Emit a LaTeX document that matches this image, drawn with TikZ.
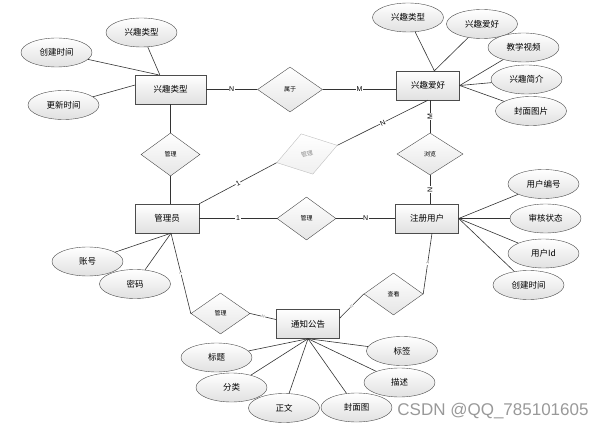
\documentclass[tikz,border=0pt]{standalone}
\usepackage{fontspec}
\setmainfont{Liberation Sans}
\newfontfamily\cjk{Noto Sans CJK SC}
\usetikzlibrary{shapes.geometric,calc}

\begin{document}
\begin{tikzpicture}[
    x=1pt, y=-1pt,
    every node/.style={inner sep=0},
    box/.style={draw=black!70, top color=white, bottom color=black!12,
        font=\cjk\fontsize{8.5}{9}\selectfont, minimum width=63pt, minimum height=29pt},
    attr/.style={ellipse, draw=black!70, top color=white, bottom color=black!12,
        font=\cjk\fontsize{8.5}{9}\selectfont, minimum width=71pt, minimum height=29pt},
    rel/.style={diamond, draw=black!70, top color=white, bottom color=black!10,
        font=\cjk\fontsize{6}{6}\selectfont, minimum width=59pt, minimum height=43pt},
    link/.style={draw=black!80, line width=0.6pt},
    card/.style={fill=white, inner sep=0.6pt, font=\fontsize{7}{7}\selectfont},
    tinycard/.style={fill=white, inner sep=0.3pt, text=black!50, font=\fontsize{4}{4}\selectfont}
]
\useasboundingbox (0,0) rectangle (607,430);

\node[box, minimum width=71pt] (type) at (170.5,89.5) {兴趣类型};
\node[box] (hobby) at (428,85.5) {兴趣爱好};
\node[box, minimum width=64pt] (admin) at (167,218.5) {管理员};
\node[box] (user) at (427,218.5) {注册用户};
\node[box] (notice) at (308,324) {通知公告};

\node[rel, minimum width=65pt, minimum height=45pt] (belong) at (290,89.5) {属于};
\node[rel] (manage1) at (170.5,154.5) {管理};
\node[rel, minimum width=63pt, minimum height=42pt, rotate=16, draw=black!25,
    bottom color=black!6, text=black!45] (manage2) at (307,154) {管理};
\node[rel, minimum width=66pt, minimum height=42pt] (browse) at (430,154) {浏览};
\node[rel] (manage3) at (306.5,218.5) {管理};
\node[rel, minimum height=41pt] (manage4) at (220.5,313.5) {管理};
\node[rel, minimum height=42pt] (view) at (393.5,294) {查看};

\node[attr] (typeA) at (141.5,32.5) {兴趣类型};
\node[attr] (typeB) at (56.5,52.5) {创建时间};
\node[attr] (typeC) at (63.5,105) {更新时间};
\node[attr] (hobbyA) at (408,17.5) {兴趣类型};
\node[attr] (hobbyB) at (482,24) {兴趣爱好};
\node[attr] (hobbyC) at (523.5,47.5) {教学视频};
\node[attr] (hobbyD) at (526.5,79.5) {兴趣简介};
\node[attr] (hobbyE) at (531,111) {封面图片};
\node[attr] (userA) at (543.5,184) {用户编号};
\node[attr] (userB) at (545.5,218.5) {审核状态};
\node[attr] (userC) at (543.5,253.5) {用户Id};
\node[attr] (userD) at (528.5,285) {创建时间};
\node[attr] (adminA) at (87.5,261.5) {账号};
\node[attr] (adminB) at (135,284) {密码};
\node[attr] (noticeA) at (216.5,357.5) {标题};
\node[attr] (noticeB) at (231.5,387.5) {分类};
\node[attr] (noticeC) at (284,408) {正文};
\node[attr] (noticeD) at (356.5,407.5) {封面图};
\node[attr] (noticeE) at (402,351) {标签};
\node[attr] (noticeF) at (399.5,382.5) {描述};

\node[text=black!40, font=\fontsize{17}{17}\selectfont] (mark) at (493,411) {CSDN @QQ\_785101605};

\draw[link] (typeA) -- ($(type.north west)!0.35!(type.north east)$);
\draw[link] (typeB) -- ($(type.north west)!0.33!(type.north east)$);
\draw[link] (typeC) -- ($(type.north west)!0.35!(type.south west)$);
\draw[link] (hobbyA) -- ($(hobby.north west)!0.6!(hobby.north east)$);
\draw[link] (hobbyB) -- ($(hobby.north west)!0.6!(hobby.north east)$);
\draw[link] (hobbyC) -- (hobby.east);
\draw[link] (hobbyD) -- (hobby.east);
\draw[link] (hobbyE) -- (hobby.east);
\draw[link] (userA) -- (user.east);
\draw[link] (userB) -- (user.east);
\draw[link] (userC) -- (user.east);
\draw[link] (userD) -- (user.east);
\draw[link] (adminA) -- ($(admin.south)+(4,0)$);
\draw[link] (adminB) -- ($(admin.south)+(4,0)$);
\foreach \a in {noticeA,noticeB,noticeC,noticeD,noticeE,noticeF}
    \draw[link] (\a) -- (notice.south);

\draw[link] (type.east) -- node[card] {N} (belong.west);
\draw[link] (belong.east) -- node[card] {M} (belong.east -| hobby.west);
\draw[link] (type.south) -- (manage1.north);
\draw[link] (manage1.south) -- (manage1.south |- admin.north);
\draw[link] (admin.north east) -- node[card, sloped] {1} (manage2.west);
\draw[link] (manage2.east) -- node[card, sloped] {N} (hobby.south);
\draw[link] (browse.north) -- node[card, sloped] {M} (browse.north |- hobby.south);
\draw[link] (browse.south |- user.north) -- node[card, sloped] {N} (browse.south);
\draw[link] (admin.east) -- node[card] {1} (manage3.west);
\draw[link] (manage3.east) -- node[card] {N} (user.west);
\draw[link] ($(admin.south)+(4,0)$) -- node[tinycard, sloped] {1} (manage4.west);
\draw[link] (manage4.east) -- node[tinycard, sloped] {N}
    ($(notice.north west)!0.35!(notice.south west)$);
\draw[link] ($(notice.north east)!0.3!(notice.south east)$) -- node[tinycard, sloped] {N} (view.west);
\draw[link] (view.east) -- node[tinycard, sloped] {1} ($(user.south)+(5,0)$);
\end{tikzpicture}
\end{document}
